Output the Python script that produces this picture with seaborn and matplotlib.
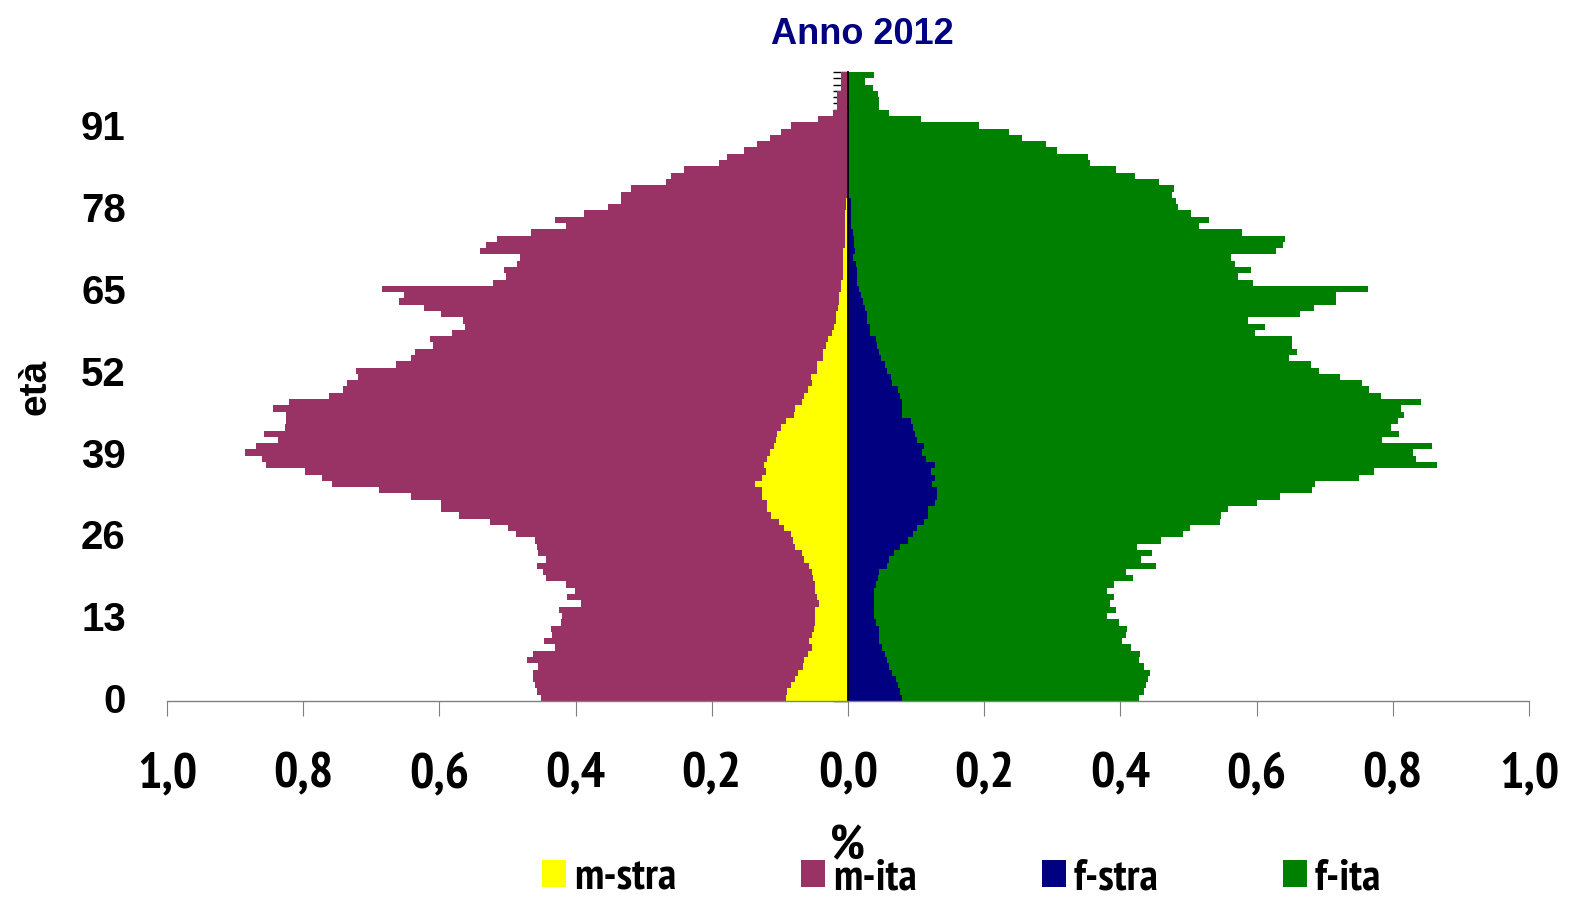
import numpy as np
import matplotlib
matplotlib.use("Agg")
import matplotlib.pyplot as plt
from matplotlib import font_manager
from matplotlib.font_manager import FontProperties
from matplotlib.patches import Patch
from matplotlib.ticker import FixedLocator
import seaborn as sns

# Single-year age classes
ages = list(range(100))

# Share of total population (%), males: foreigners / Italians
m_stra = [
    .091, .089, .083, .078, .073, .066, .065, .059, .053, .057,
    .053, .050, .048, .048, .048, .042, .046, .048, .048, .051,
    .053, .057, .065, .068, .078, .081, .083, .094, .102, .113,
    .119, .119, .127, .126, .137, .127, .121, .124, .119, .115,
    .109, .105, .104, .099, .091, .080, .078, .068, .065, .059,
    .053, .054, .046, .046, .037, .037, .032, .029, .024, .021,
    .018, .018, .015, .013, .013, .010, .010, .007, .007, .007,
    .007, .007, .005, .005, .005, .005, .005, .004, .003, .003,
    .002, .002, .002, .002, .002, .001, .001, .001, .001, .001,
    .001, .001, .001, .001, .000, .000, .000, .000, .000, .000,
]
m_ita = [
    .360, .368, .377, .384, .390, .389, .406, .404, .377, .390,
    .382, .386, .374, .372, .377, .350, .367, .353, .366, .393,
    .395, .400, .379, .387, .379, .379, .404, .405, .424, .458,
    .478, .478, .514, .563, .621, .646, .677, .731, .741, .771,
    .761, .732, .753, .728, .734, .745, .767, .753, .697, .682,
    .683, .665, .677, .617, .605, .599, .577, .585, .558, .541,
    .547, .579, .607, .647, .639, .675, .512, .495, .498, .479,
    .475, .533, .526, .510, .460, .409, .425, .383, .350, .331,
    .331, .316, .265, .258, .239, .189, .177, .151, .132, .113,
    .097, .082, .043, .021, .016, .016, .016, .010, .010, .010,
]
# Females: foreigners / Italians
f_stra = [
    .079, .076, .073, .070, .065, .060, .057, .054, .050, .046,
    .046, .045, .041, .038, .038, .038, .038, .038, .041, .044,
    .046, .057, .060, .067, .076, .088, .095, .102, .111, .117,
    .117, .128, .130, .130, .124, .128, .122, .128, .114, .108,
    .111, .101, .098, .095, .092, .080, .079, .079, .076, .073,
    .065, .063, .057, .054, .048, .046, .043, .041, .032, .032,
    .028, .028, .025, .022, .019, .016, .013, .013, .013, .012,
    .007, .010, .009, .009, .007, .005, .005, .005, .005, .005,
    .002, .002, .002, .002, .002, .001, .001, .001, .001, .001,
    .001, .001, .001, .001, .000, .000, .000, .000, .000, .000,
]
f_ita = [
    .349, .359, .364, .371, .378, .375, .371, .375, .366, .356,
    .362, .365, .357, .342, .355, .346, .353, .342, .349, .374,
    .362, .396, .370, .380, .348, .372, .397, .400, .435, .431,
    .441, .473, .505, .552, .562, .622, .651, .737, .720, .722,
    .747, .683, .711, .702, .715, .737, .733, .763, .706, .692,
    .690, .660, .635, .626, .600, .614, .609, .611, .565, .581,
    .560, .636, .660, .695, .698, .747, .581, .559, .579, .556,
    .555, .619, .630, .633, .571, .511, .525, .498, .479, .477,
    .474, .476, .455, .420, .391, .355, .351, .306, .290, .255,
    .236, .192, .106, .059, .046, .046, .044, .037, .025, .038,
]

series_names = ["m-stra", "m-ita", "f-stra", "f-ita"]
age_ticks = [0, 13, 26, 39, 52, 65, 78, 91]
x_ticks = [-1.0, -0.8, -0.6, -0.4, -0.2, 0.0, 0.2, 0.4, 0.6, 0.8, 1.0]

C_MSTRA = "#FFFF00"
C_MITA = "#993366"
C_FSTRA = "#000080"
C_FITA = "#008000"

sns.set_theme(style="white")
available = {f.name for f in font_manager.fontManager.ttflist}
REG = "Liberation Sans" if "Liberation Sans" in available else "DejaVu Sans"
plt.rcParams["font.family"] = [REG, "DejaVu Sans"]
plt.rcParams["text.color"] = "black"
plt.rcParams["axes.labelcolor"] = "black"

# A narrow bold face for the axis numbers and legend, when one is installed
narrow_file = None
for f in font_manager.fontManager.ttflist:
    low = f.fname.lower()
    if "narrow" in low and "bold" in low and "italic" not in low:
        narrow_file = f.fname
        break


def narrow(size):
    if narrow_file:
        return FontProperties(fname=narrow_file, size=size)
    return FontProperties(family=REG, weight="bold", size=size * 0.86)


W, H, DPI = 1574, 897, 100
fig = plt.figure(figsize=(W / DPI, H / DPI), dpi=DPI)
ax = fig.add_axes([167 / W, 1 - 701 / H, (1529 - 167) / W, (701 - 72) / H])

m_stra_a = np.array(m_stra)
m_ita_a = np.array(m_ita)
f_stra_a = np.array(f_stra)
f_ita_a = np.array(f_ita)

bar_kw = dict(orient="h", native_scale=True, width=1.0, saturation=1,
              errorbar=None, linewidth=0, antialiased=False, ax=ax)

# Males to the left: Italians stacked outside the foreign share
sns.barplot(x=-(m_stra_a + m_ita_a), y=ages, color=C_MITA, **bar_kw)
sns.barplot(x=-m_stra_a, y=ages, color=C_MSTRA, **bar_kw)
# Females to the right
sns.barplot(x=f_stra_a + f_ita_a, y=ages, color=C_FITA, **bar_kw)
sns.barplot(x=f_stra_a, y=ages, color=C_FSTRA, **bar_kw)

ax.set_xlim(-1.0, 1.0)
ax.set_ylim(-0.5, 99.5)

# x axis
ax.xaxis.set_major_locator(FixedLocator(x_ticks))
ax.set_xticklabels([f"{abs(v):.1f}".replace(".", ",") for v in x_ticks],
                   fontproperties=narrow(37))
ax.tick_params(axis="x", which="major", direction="out", length=10.8,
               width=0.8, color="#808080", pad=26, bottom=True,
               labelcolor="black")
ax.spines["bottom"].set_color("#808080")
ax.spines["bottom"].set_linewidth(1.0)

# y axis sits on the zero line; labels pushed to the far left
ax.spines["left"].set_position(("data", 0))
ax.spines["left"].set_color("black")
ax.spines["left"].set_linewidth(1.3)
ax.spines["right"].set_visible(False)
ax.spines["top"].set_visible(False)
ax.yaxis.set_major_locator(FixedLocator(age_ticks))
ax.yaxis.set_minor_locator(FixedLocator(np.arange(-0.5, 100, 1.0)))
ax.set_yticklabels([str(a) for a in age_ticks], fontweight="bold", fontsize=29)
ax.tick_params(axis="y", which="major", length=0, pad=520, left=True,
               labelcolor="black")
ax.tick_params(axis="y", which="minor", length=10.8, width=1.0,
               color="black", direction="out", left=True)

ax.set_xlabel("%", fontproperties=narrow(35), labelpad=20)
ax.set_ylabel("età", fontweight="bold", fontsize=28, labelpad=20)

fig.text(862 / W, 1 - 34 / H, "Anno 2012", ha="center", va="center",
         fontsize=26, fontweight="bold", color=C_FSTRA)

handles = [Patch(facecolor=c, edgecolor="none")
           for c in (C_MSTRA, C_MITA, C_FSTRA, C_FITA)]
leg = fig.legend(handles, series_names, loc="center",
                 bbox_to_anchor=(962 / W, 1 - 878 / H),
                 ncol=4, frameon=False, handlelength=0.54, handleheight=0.56,
                 handletextpad=0.18, columnspacing=2.8, borderpad=0,
                 prop=narrow(32))

fig.savefig("out.png", dpi=DPI)
